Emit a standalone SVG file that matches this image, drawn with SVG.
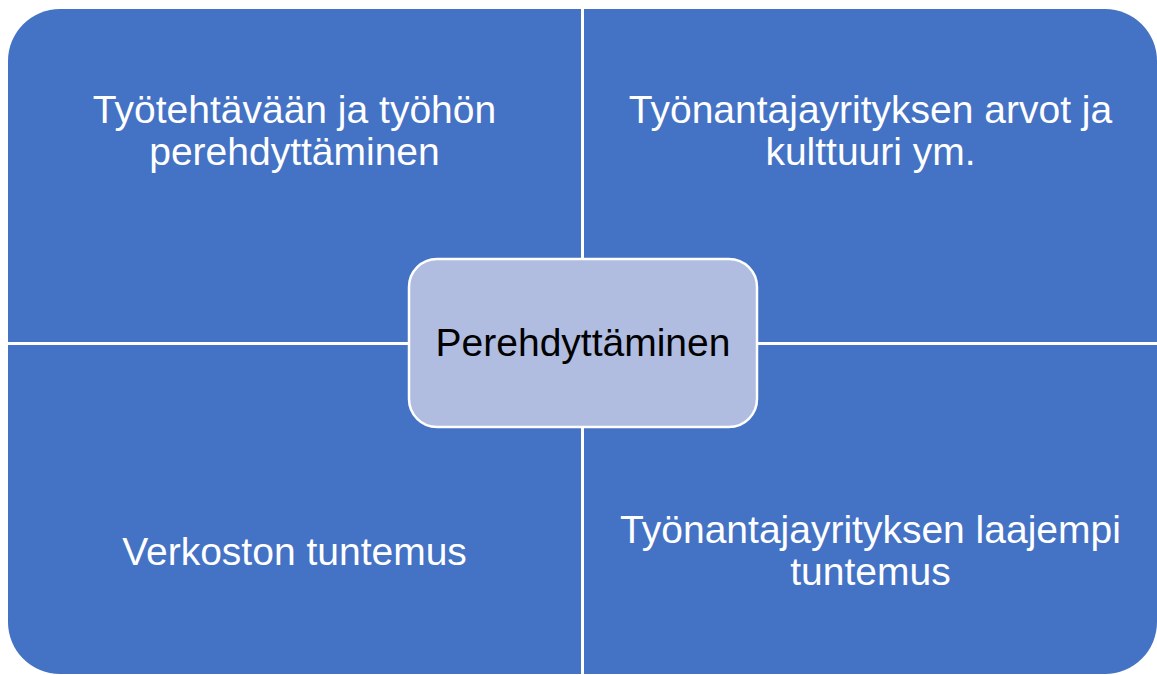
<svg xmlns="http://www.w3.org/2000/svg" width="1157" height="675" viewBox="0 0 1157 675">
  <style>
    .quad { fill: #4472C4; }
    .qtext { font-family: "Liberation Sans", Arial, sans-serif; font-size: 39px; fill: #FFFFFF; text-anchor: middle; }
    .center { fill: #B0BDE0; stroke: #FFFFFF; stroke-width: 2.5; }
    .ctext { font-family: "Liberation Sans", Arial, sans-serif; font-size: 39px; fill: #000000; text-anchor: middle; }
  </style>
  <rect width="1157" height="675" fill="#FFFFFF"/>
  <g id="quad-top-left">
    <path class="quad" d="M8,61 A52,52 0 0 1 60,9 H581 V342 H8 Z"/>
    <text class="qtext" x="294.5" y="123">Työtehtävään ja työhön</text>
    <text class="qtext" x="294.5" y="165">perehdyttäminen</text>
  </g>
  <g id="quad-top-right">
    <path class="quad" d="M584,9 H1105 A52,52 0 0 1 1157,61 V342 H584 Z"/>
    <text class="qtext" x="870.5" y="123">Työnantajayrityksen arvot ja</text>
    <text class="qtext" x="870.5" y="165">kulttuuri ym.</text>
  </g>
  <g id="quad-bottom-left">
    <path class="quad" d="M8,345 H581 V674 H60 A52,52 0 0 1 8,622 Z"/>
    <text class="qtext" x="294.5" y="565">Verkoston tuntemus</text>
  </g>
  <g id="quad-bottom-right">
    <path class="quad" d="M584,345 H1157 V622 A52,52 0 0 1 1105,674 H584 Z"/>
    <text class="qtext" x="870.5" y="543">Työnantajayrityksen laajempi</text>
    <text class="qtext" x="870.5" y="585">tuntemus</text>
  </g>
  <g id="center">
    <rect class="center" x="409" y="259" width="348" height="168" rx="28" ry="28"/>
    <text class="ctext" x="583" y="356">Perehdyttäminen</text>
  </g>
</svg>
